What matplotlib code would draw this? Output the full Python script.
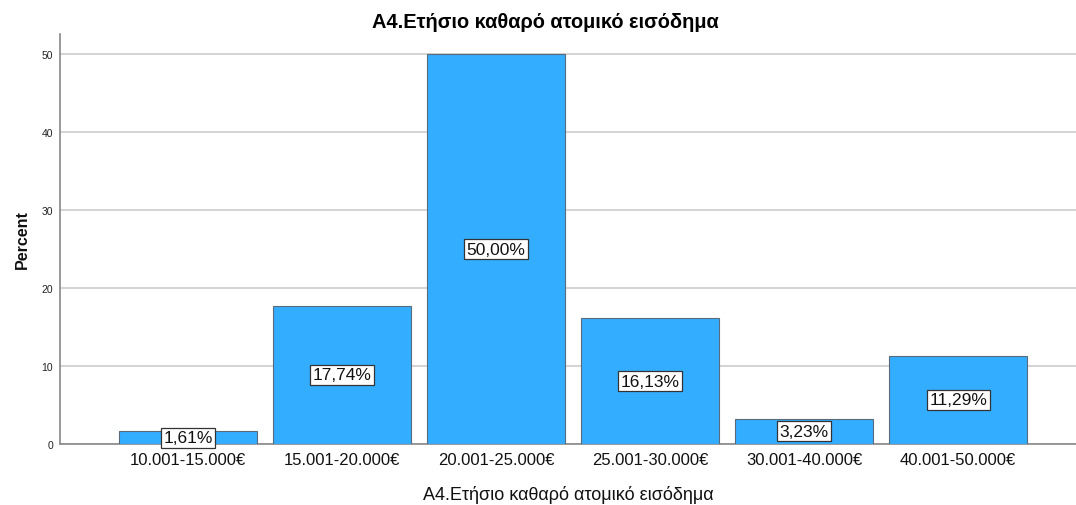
import matplotlib
matplotlib.use("Agg")
import matplotlib.pyplot as plt

# data
categories = ['10.001-15.000€', '15.001-20.000€', '20.001-25.000€',
              '25.001-30.000€', '30.001-40.000€', '40.001-50.000€']
percents = [1.61, 17.74, 50.00, 16.13, 3.23, 11.29]
title = 'A4.Ετήσιο καθαρό ατομικό εισόδημα'

plt.rcParams['font.family'] = ['Liberation Sans', 'DejaVu Sans']

fig = plt.figure(figsize=(10.76, 5.06), dpi=100)
ax = fig.add_axes([60 / 1076, 1 - 445 / 506, 1016 / 1076, 410 / 506])

x = list(range(len(categories)))
bars = ax.bar(x, percents, width=0.896, color='#33adff', edgecolor='#5a6a78', linewidth=0.8, zorder=3)

# labels in the middle of the bars
for xi, val in zip(x, percents):
    ax.text(xi, val / 2, f"{val:.2f}%".replace('.', ','), ha='center', va='center',
            fontsize=12.5, color='#111111', zorder=4,
            bbox=dict(boxstyle='square,pad=0.14', facecolor='white', edgecolor='#333333', linewidth=0.9))

ax.set_xlim(-0.83, 5.765)
ax.set_ylim(0, 52.6)
ax.set_yticks([0, 10, 20, 30, 40, 50])
ax.yaxis.grid(True, color='#c8c8c8', linewidth=1.1, zorder=0)
ax.set_axisbelow(True)

ax.set_xticks(x)
ax.set_xticklabels(categories, fontsize=12, color='#111111')
ax.tick_params(axis='x', length=0, pad=6)
ax.tick_params(axis='y', length=0, labelsize=7.5, pad=5, labelcolor='#222222')

for side in ['top', 'right']:
    ax.spines[side].set_visible(False)
ax.spines['left'].set_color('#888888')
ax.spines['left'].set_linewidth(1.2)
ax.spines['bottom'].set_color('#888888')
ax.spines['bottom'].set_linewidth(1.2)

ax.set_xlabel(title, fontsize=13, labelpad=13, color='#111111')
ax.set_ylabel('Percent', fontsize=11.5, fontweight='bold', labelpad=8, color='#111111')
fig.text(545 / 1076, 1 - 22 / 506, title, ha='center', va='center', fontsize=14.4, fontweight='bold')

fig.savefig('out.png', dpi=100)
